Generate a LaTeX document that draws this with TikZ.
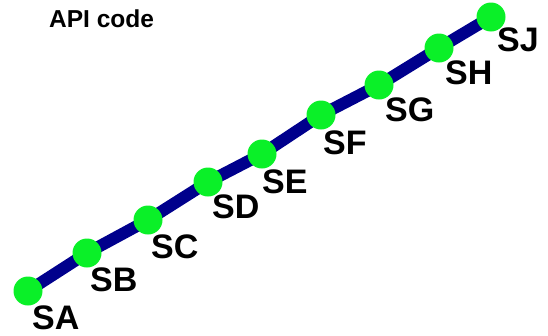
\documentclass[tikz,border=0pt]{standalone}
\usepackage{fontspec}
\setmainfont{Liberation Sans}
\definecolor{linkblue}{RGB}{0,0,140}
\definecolor{dotgreen}{RGB}{10,240,40}
\begin{document}
\begin{tikzpicture}[x=1pt,y=-1pt,
  dot/.style={circle,fill=dotgreen,draw=none,minimum size=29pt,inner sep=0pt},
  lbl/.style={anchor=base west,inner sep=0pt,font=\fontsize{34}{34}\selectfont\bfseries},
  link/.style={draw=linkblue,line width=12pt}]
\useasboundingbox (0,0) rectangle (548,335);
\node[anchor=base west,inner sep=0pt,font=\fontsize{24.5}{24.5}\selectfont\bfseries] (title) at (49,27) {API code};
\coordinate (pA) at (28,291);
\coordinate (pB) at (87,253);
\coordinate (pC) at (148,220);
\coordinate (pD) at (208,182);
\coordinate (pE) at (262,154);
\coordinate (pF) at (321,115);
\coordinate (pG) at (379,85);
\coordinate (pH) at (439,48);
\coordinate (pJ) at (491,17);
\draw[link] (pA) -- (pB) -- (pC) -- (pD) -- (pE) -- (pF) -- (pG) -- (pH) -- (pJ);
\foreach \n in {A,B,C,D,E,F,G,H,J} { \node[dot] (S\n) at (p\n) {}; }
\node[lbl] (lA) at (32,329) {SA};
\node[lbl] (lB) at (90,291) {SB};
\node[lbl] (lC) at (151,258) {SC};
\node[lbl] (lD) at (212,218) {SD};
\node[lbl] (lE) at (262,193) {SE};
\node[lbl] (lF) at (323,154) {SF};
\node[lbl] (lG) at (385,121) {SG};
\node[lbl] (lH) at (445,84) {SH};
\node[lbl] (lJ) at (497,51) {SJ};
\end{tikzpicture}
\end{document}
